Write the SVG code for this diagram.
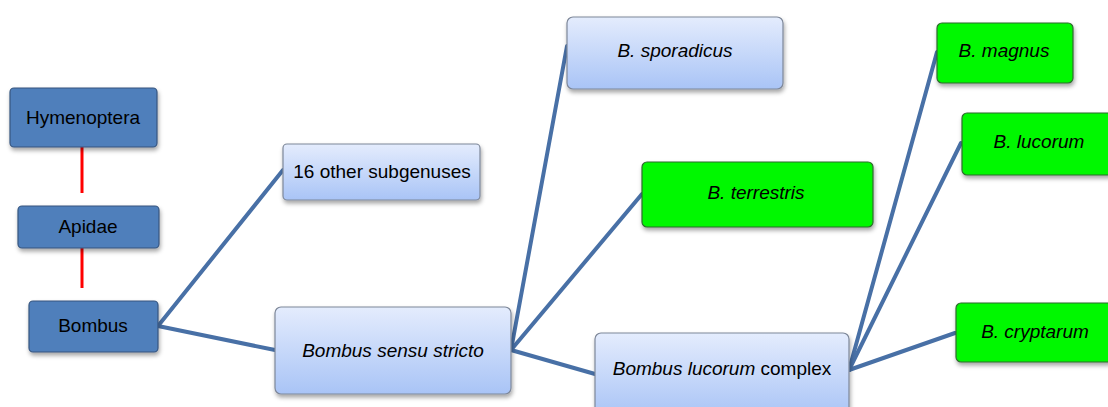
<svg xmlns="http://www.w3.org/2000/svg" width="1108" height="407" viewBox="0 0 1108 407">
<defs>
<linearGradient id="lg" x1="0" y1="0" x2="0" y2="1">
<stop offset="0" stop-color="#e4ecfd"/>
<stop offset="1" stop-color="#a9c4f6"/>
</linearGradient>
<filter id="sh" x="-10%" y="-10%" width="125%" height="130%">
<feDropShadow dx="1" dy="3" stdDeviation="2" flood-color="#000" flood-opacity="0.35"/>
</filter>
</defs>
<style>
.dark{fill:#4f7fbb;stroke:#36557f;stroke-width:1.2}
.light{fill:url(#lg);stroke:#7d8799;stroke-width:1.2}
.green{fill:#00f800;stroke:#2f6b2f;stroke-width:1.2}
rect{filter:url(#sh)}
text{font-family:"Liberation Sans",Arial,sans-serif;font-size:19px;fill:#000;text-anchor:middle}
.it{font-style:italic}
.edge{stroke:#4870a6;stroke-width:4;fill:none;stroke-linecap:round}
.red{stroke:#ff0000;stroke-width:3;fill:none}
</style>
<g id="connectors">
<line class="red" x1="82" y1="147" x2="82" y2="193"/>
<line class="red" x1="82" y1="248" x2="82" y2="288"/>
<line class="edge" x1="158" y1="326" x2="283" y2="170"/>
<line class="edge" x1="158" y1="326" x2="275" y2="350"/>
<line class="edge" x1="511" y1="350" x2="567" y2="46"/>
<line class="edge" x1="511" y1="350" x2="642" y2="194"/>
<line class="edge" x1="511" y1="350" x2="595" y2="374"/>
<line class="edge" x1="849" y1="370" x2="937" y2="52"/>
<line class="edge" x1="849" y1="370" x2="961" y2="143"/>
<line class="edge" x1="849" y1="370" x2="955" y2="333"/>
</g>
<g id="hymenoptera">
<rect class="dark" x="10" y="88" width="147" height="59" rx="4"/>
<text x="83" y="124">Hymenoptera</text>
</g>
<g id="apidae">
<rect class="dark" x="18" y="206" width="141" height="42" rx="4"/>
<text x="88" y="233">Apidae</text>
</g>
<g id="bombus">
<rect class="dark" x="29" y="301" width="129" height="51" rx="4"/>
<text x="93" y="332">Bombus</text>
</g>
<g id="other-subgenuses">
<rect class="light" x="283" y="144" width="197" height="56" rx="4"/>
<text x="382" y="178">16 other subgenuses</text>
</g>
<g id="sensu-stricto">
<rect class="light" x="275" y="307" width="236" height="87" rx="6"/>
<text class="it" x="393" y="357">Bombus sensu stricto</text>
</g>
<g id="sporadicus">
<rect class="light" x="567" y="17" width="216" height="72" rx="6"/>
<text class="it" x="675" y="57">B. sporadicus</text>
</g>
<g id="terrestris">
<rect class="green" x="642" y="162" width="231" height="65" rx="5"/>
<text class="it" x="756" y="199">B. terrestris</text>
</g>
<g id="lucorum-complex">
<rect class="light" x="595" y="333" width="254" height="84" rx="6"/>
<text x="722" y="375"><tspan class="it">Bombus lucorum</tspan> complex</text>
</g>
<g id="magnus">
<rect class="green" x="937" y="23" width="136" height="60" rx="5"/>
<text class="it" x="1004" y="57">B. magnus</text>
</g>
<g id="lucorum">
<rect class="green" x="962" y="113" width="152" height="62" rx="5"/>
<text class="it" x="1039" y="148">B. lucorum</text>
</g>
<g id="cryptarum">
<rect class="green" x="956" y="303" width="158" height="59" rx="5"/>
<text class="it" x="1035" y="338">B. cryptarum</text>
</g>
</svg>
